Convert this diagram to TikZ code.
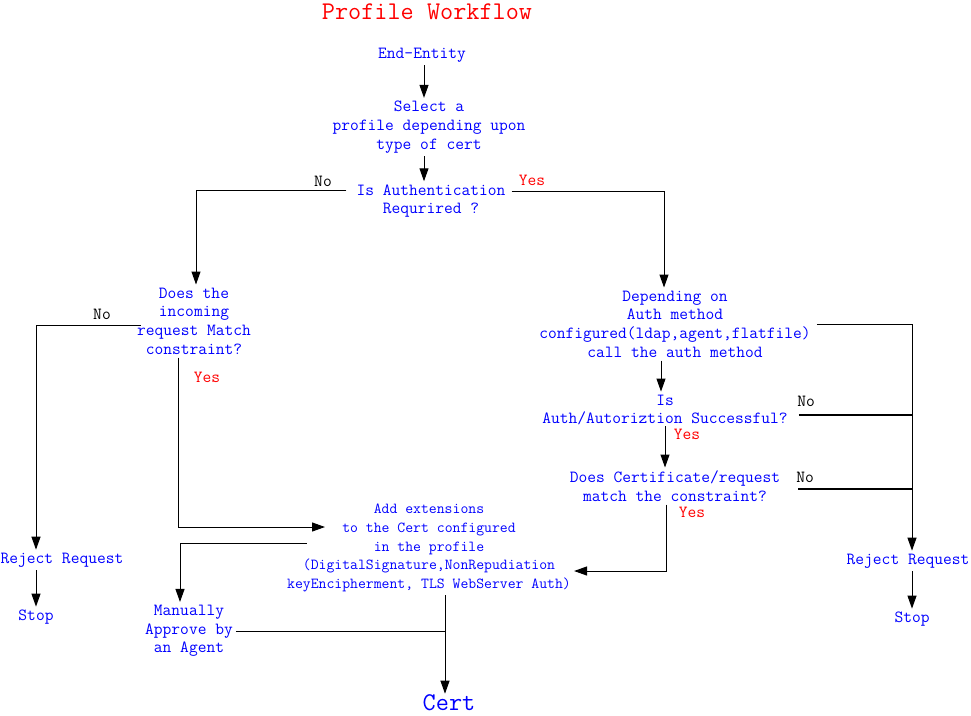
\documentclass[tikz,border=0pt]{standalone}
\usepackage{fontspec}
\usepackage{tikz}
\usetikzlibrary{arrows.meta}

\begin{document}
\begin{tikzpicture}[x=1pt,y=-1pt,
		box/.style={font=\ttfamily\fontsize{17}{18.7}\selectfont,text=blue,align=center,inner sep=3pt},
		small/.style={box,font=\ttfamily\fontsize{15.3}{18.7}\selectfont},
		big/.style={font=\ttfamily\fontsize{25.5}{28}\selectfont,inner sep=1pt},
		no/.style={font=\ttfamily\fontsize{17}{18}\selectfont,text=black,inner sep=0pt},
		yes/.style={font=\ttfamily\fontsize{17}{18}\selectfont,text=red,inner sep=0pt},
		arr/.style={line width=1pt,-{Triangle[length=13pt,width=9pt]}},
		ln/.style={line width=1pt}]
		\useasboundingbox (0,0) rectangle (971,715);
		\node[big,text=red] (title) at (427,12) {Profile Workflow};
		% nodes
		\node[box] (entity) at (422,55) {End-Entity};
		\node[box] (select) at (429,127) {Select a\\profile depending upon\\type of cert};
		\node[box] (authreq) at (431,201) {Is Authentication\\Requrired ?};
		\node[box] (match) at (194,321) {Does the\\incoming\\request Match\\constraint?};
		\node[box] (authmeth) at (675,324) {Depending on\\Auth method\\configured(ldap,agent,flatfile)\\call the auth method};
		\node[box] (authok) at (665,410) {Is\\Auth/Autoriztion Successful?};
		\node[box] (certmatch) at (675,486) {Does Certificate/request\\match the constraint?};
		\node[small] (ext) at (429,548) {Add extensions\\to the Cert configured\\in the profile\\(DigitalSignature,NonRepudiation\\keyEncipherment, TLS WebServer Auth)};
		\node[box] (rejL) at (62,560) {Reject Request};
		\node[box] (stopL) at (36,617) {Stop};
		\node[box] (rejR) at (908,561) {Reject Request};
		\node[box] (stopR) at (912,619) {Stop};
		\node[box] (manual) at (189,631) {Manually\\Approve by\\an Agent};
		\node[big,text=blue] (cert) at (449,703) {Cert};
		% labels
		\node[no] (noA) at (323,181) {No};
		\node[yes] (yesA) at (532,180) {Yes};
		\node[no] (noB) at (102,314) {No};
		\node[yes] (yesB) at (207,377) {Yes};
		\node[no] (noC) at (806,401) {No};
		\node[yes] (yesC) at (687,434) {Yes};
		\node[no] (noD) at (805,477) {No};
		\node[yes] (yesD) at (692,512) {Yes};
		% connectors
		\draw[arr] ([xshift=2pt]entity.south) -- ([xshift=-5pt]select.north);
		\draw[arr] ([xshift=-5pt]select.south) -- ([xshift=-7pt]authreq.north);
		\draw[arr] ([xshift=-7pt,yshift=11pt]authreq.west) -| ([xshift=2pt]match.north);
		\draw[arr] ([xshift=3pt,yshift=10pt]authreq.east) -| ([xshift=-11pt]authmeth.north);
		\draw[arr] ([xshift=7pt,yshift=-4pt]match.west) -| (rejL.north -| stopL);
		\draw[arr] ([xshift=-16pt]match.south) |- ([xshift=-104pt,yshift=21pt]ext.center);
		\draw[arr] ([xshift=23pt,yshift=5pt]ext.west) -| ([xshift=-9pt]manual.north);
		\draw[arr] (rejL.south -| stopL) -- (stopL);
		\draw[arr] ([xshift=3pt]authmeth.east) -| (rejR.north -| stopR);
		\draw[arr] ([xshift=-14pt]authmeth.south) -- ([xshift=-4pt]authok.north);
		\draw[ln,line width=1.6pt] ([xshift=8pt,yshift=-5pt]authok.east) -- ([yshift=-5pt]authok.east -| stopR);
		\draw[arr] ([yshift=2pt]authok.south) -- ([xshift=-10pt]certmatch.north);
		\draw[ln,line width=1.6pt] ([xshift=15pt,yshift=-3pt]certmatch.east) -- ([yshift=-3pt]certmatch.east -| stopR);
		\draw[arr] ([xshift=-9pt]certmatch.south) |- ([yshift=-23pt]ext.east);
		\draw[arr] (rejR.south -| stopR) -- (stopR);
		\draw[arr] ([xshift=16pt]ext.south) -- ([xshift=-4pt]cert.north);
		\draw[ln] (manual.east) -- ([xshift=-4pt]manual.east -| cert);
\end{tikzpicture}
\end{document}
